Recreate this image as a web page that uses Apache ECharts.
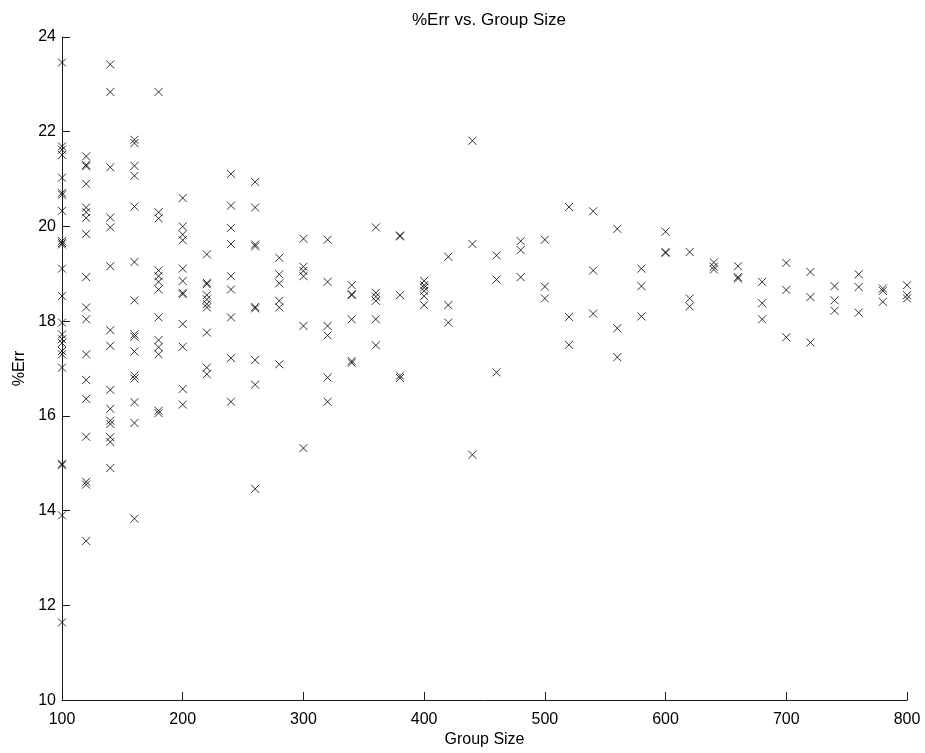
<!DOCTYPE html>
<html>
<head>
<meta charset="utf-8">
<script src="https://cdn.jsdelivr.net/npm/echarts@6/dist/echarts.min.js"></script>
<style>
html,body{margin:0;padding:0;background:#fff;}
#chart{width:925px;height:753px;}
</style>
</head>
<body>
<div id="chart"></div>
<script>
const chartTitle = '%Err vs. Group Size';
const xAxisName = 'Group Size';
const yAxisName = '%Err';
const xTicks = [100, 200, 300, 400, 500, 600, 700, 800];
const yTicks = [10, 12, 14, 16, 18, 20, 22, 24];
const groupSizes = [100,120,140,160,180,200,220,240,260,280,300,320,340,360,380,400,420,440,460,480,500,520,540,560,580,600,620,640,660,680,700,720,740,760,780,800];
const errValues = [
  [23.46,21.69,21.62,21.51,21.03,20.71,20.67,20.33,19.69,19.65,19.62,19.11,18.53,17.97,17.72,17.62,17.54,17.37,17.30,17.02,14.99,14.96,13.90,11.64],
  [21.48,21.30,21.27,20.90,20.40,20.30,20.18,19.84,18.93,18.29,18.04,17.30,16.76,16.36,15.56,14.61,14.55,13.36],
  [23.42,22.84,21.25,20.19,19.98,19.16,17.81,17.48,16.55,16.15,15.90,15.83,15.55,15.45,14.90],
  [21.83,21.76,21.28,21.07,20.42,19.25,18.44,17.72,17.67,17.36,16.85,16.79,16.29,15.85,13.83],
  [22.84,20.30,20.17,19.07,18.95,18.83,18.67,18.08,17.60,17.45,17.30,16.11,16.06],
  [20.60,20.00,19.83,19.71,19.11,18.85,18.60,18.57,17.94,17.46,16.57,16.24],
  [19.41,18.81,18.78,18.55,18.46,18.36,18.29,17.76,17.02,16.88],
  [21.11,20.44,19.97,19.63,18.95,18.67,18.08,17.22,16.30],
  [20.94,20.40,19.62,19.58,18.30,18.27,17.18,16.66,14.46],
  [19.34,18.99,18.80,18.43,18.29,17.09],
  [19.74,19.15,19.06,18.95,17.90,15.32],
  [19.72,18.83,17.90,17.70,16.81,16.30],
  [18.76,18.57,18.55,18.04,17.16,17.12],
  [19.98,18.60,18.52,18.43,18.04,17.49],
  [19.81,19.79,18.55,16.85,16.80],
  [18.85,18.76,18.71,18.64,18.53,18.34],
  [19.36,18.34,17.97],
  [21.81,19.63,15.18],
  [19.39,18.88,16.92],
  [19.69,19.50,18.93],
  [19.72,18.73,18.48],
  [20.41,18.09,17.50],
  [20.32,19.07,18.16],
  [19.95,17.85,17.24],
  [19.11,18.74,18.10],
  [19.89,19.46,19.44],
  [19.46,18.48,18.31],
  [19.24,19.15,19.09],
  [19.16,18.93,18.90],
  [18.83,18.38,18.04],
  [19.23,18.66,17.66],
  [19.04,18.51,17.55],
  [18.74,18.44,18.22],
  [18.99,18.72,18.18],
  [18.69,18.64,18.41],
  [18.76,18.55,18.48]
];

const points = [];
groupSizes.forEach(function (g, i) {
  errValues[i].forEach(function (v) { points.push([g, v]); });
});

const font = 'Liberation Sans, Arial, Helvetica, sans-serif';
const chart = echarts.init(document.getElementById('chart'), null, {renderer: 'canvas'});
chart.setOption({
  animation: false,
  backgroundColor: '#ffffff',
  title: {
    text: chartTitle,
    left: 484, top: 7, textAlign: 'center',
    textStyle: {fontFamily: font, fontSize: 17, fontWeight: 'normal', color: '#000'}
  },
  grid: {left: 62, right: 18, top: 37, bottom: 51},
  xAxis: {
    type: 'value',
    min: xTicks[0], max: xTicks[xTicks.length - 1], interval: 100,
    name: xAxisName, nameLocation: 'middle', nameGap: 31,
    nameTextStyle: {fontFamily: font, fontSize: 16, color: '#000'},
    axisLine: {show: true, lineStyle: {color: '#1a1a1a', width: 1}},
    axisTick: {show: true, inside: true, length: 8, lineStyle: {color: '#1a1a1a'}},
    axisLabel: {margin: 11, fontFamily: font, fontSize: 16, color: '#000'},
    splitLine: {show: false}
  },
  yAxis: {
    type: 'value',
    min: yTicks[0], max: yTicks[yTicks.length - 1], interval: 2,
    name: yAxisName, nameLocation: 'middle', nameGap: 32, nameRotate: 90,
    nameTextStyle: {fontFamily: font, fontSize: 16, color: '#000'},
    axisLine: {show: true, lineStyle: {color: '#1a1a1a', width: 1}},
    axisTick: {show: true, inside: true, length: 8, lineStyle: {color: '#1a1a1a'}},
    axisLabel: {margin: 6, fontFamily: font, fontSize: 16, color: '#000'},
    splitLine: {show: false}
  },
  series: [{
    type: 'scatter',
    data: points,
    clip: false,
    symbol: 'path://M0,0L10,10M10,0L0,10',
    symbolSize: 8,
    itemStyle: {color: 'transparent', borderColor: '#000', borderWidth: 1}
  }]
});
</script>
</body>
</html>
